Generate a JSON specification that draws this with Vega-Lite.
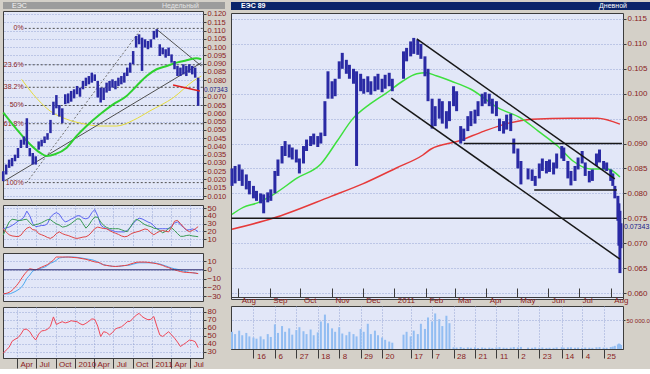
{
"$schema": "https://vega.github.io/schema/vega-lite/v6.json",
"background": "#d4d0c8",
"padding": {"left": -2, "top": 1, "right": 0, "bottom": 0},
"config": {
  "font": "Liberation Sans",
  "view": {"stroke": "#3c3c3c", "strokeWidth": 1, "fill": "#e2e7f8"},
  "axis": {"labelFont": "Liberation Sans", "labelFontSize": 8, "labelColor": "#8a1c1c", "gridColor": "#8f9fd0", "gridDash": [1, 2], "gridOpacity": 0.9, "domain": false, "tickColor": "#3c3c3c", "tickSize": 3, "title": null, "labelOverlap": false, "labelPadding": 1, "labelFlush": false},
  "line": {"strokeWidth": 1}
},
"datasets": {
  "L": [
    {"d":"2009-01-26","lo":0.019,"hi":0.025,"b":23.3,"g":15,"r":23.3,"mr":-27.6,"mb":-27.6,"rsi":28},
    {"d":"2009-02-09","lo":0.023,"hi":0.029,"b":24.5,"g":24,"r":19,"mr":-27,"mb":-27.6,"rsi":32},
    {"d":"2009-02-23","lo":0.027,"hi":0.032,"b":25.4,"g":32,"r":15.5,"mr":-25.8,"mb":-27.6,"rsi":35.5},
    {"d":"2009-03-09","lo":0.028,"hi":0.033,"b":27.5,"g":35.5,"r":14,"mr":-23.5,"mb":-26.5,"rsi":43},
    {"d":"2009-03-23","lo":0.031,"hi":0.035,"b":30,"g":35,"r":13.5,"mr":-20,"mb":-25,"rsi":45.5},
    {"d":"2009-04-06","lo":0.033,"hi":0.039,"b":33,"g":34,"r":13,"mr":-16,"mb":-23,"rsi":47.5},
    {"d":"2009-04-20","lo":0.039,"hi":0.044,"b":35,"g":34,"r":15,"mr":-11,"mb":-20.5,"rsi":52},
    {"d":"2009-05-04","lo":0.041,"hi":0.046,"b":38,"g":35,"r":20,"mr":-6,"mb":-16,"rsi":58},
    {"d":"2009-05-18","lo":0.039,"hi":0.057,"b":46,"g":35.5,"r":24,"mr":-2,"mb":-10,"rsi":58},
    {"d":"2009-06-01","lo":0.034,"hi":0.039,"b":40,"g":31,"r":25.4,"mr":1.1,"mb":-6,"rsi":55},
    {"d":"2009-06-15","lo":0.029,"hi":0.036,"b":30,"g":27.5,"r":22,"mr":0.5,"mb":-1.5,"rsi":49},
    {"d":"2009-06-29","lo":0.029,"hi":0.034,"b":26,"g":28.5,"r":21.5,"mr":0,"mb":0,"rsi":44.6},
    {"d":"2009-07-13","lo":0.038,"hi":0.043,"b":26.5,"g":29.5,"r":17,"mr":1.5,"mb":1,"rsi":52},
    {"d":"2009-07-27","lo":0.040,"hi":0.044,"b":27.5,"g":31,"r":15.5,"mr":3,"mb":2,"rsi":56},
    {"d":"2009-08-10","lo":0.042,"hi":0.046,"b":27.5,"g":33,"r":14,"mr":4.5,"mb":3,"rsi":56.5},
    {"d":"2009-08-24","lo":0.044,"hi":0.048,"b":30,"g":35,"r":12,"mr":6,"mb":5,"rsi":58},
    {"d":"2009-09-07","lo":0.048,"hi":0.056,"b":38,"g":35,"r":10.8,"mr":8.5,"mb":7.5,"rsi":62},
    {"d":"2009-09-21","lo":0.059,"hi":0.067,"b":42.1,"g":32,"r":13,"mr":11,"mb":8.8,"rsi":73.5},
    {"d":"2009-10-05","lo":0.063,"hi":0.071,"b":44,"g":29.6,"r":17,"mr":14.6,"mb":11,"rsi":64},
    {"d":"2009-10-19","lo":0.058,"hi":0.065,"b":42,"g":28,"r":19.2,"mr":14.6,"mb":13.5,"rsi":66},
    {"d":"2009-11-02","lo":0.054,"hi":0.063,"b":36,"g":25.4,"r":17,"mr":14.6,"mb":14,"rsi":67.5},
    {"d":"2009-11-16","lo":0.0655,"hi":0.0715,"b":32,"g":26,"r":15.5,"mr":14.6,"mb":14.4,"rsi":66},
    {"d":"2009-11-30","lo":0.066,"hi":0.072,"b":33.5,"g":27.5,"r":14.5,"mr":14.6,"mb":14.6,"rsi":67},
    {"d":"2009-12-14","lo":0.067,"hi":0.0735,"b":35.8,"g":30,"r":13,"mr":14.4,"mb":14.6,"rsi":68.75},
    {"d":"2009-12-28","lo":0.069,"hi":0.0745,"b":37.5,"g":33,"r":11.5,"mr":14,"mb":14.6,"rsi":68},
    {"d":"2010-01-11","lo":0.0715,"hi":0.0765,"b":40,"g":36,"r":10.8,"mr":13.8,"mb":14.2,"rsi":67.5},
    {"d":"2010-01-25","lo":0.070,"hi":0.0755,"b":40,"g":35.8,"r":11.5,"mr":13.2,"mb":13.8,"rsi":65},
    {"d":"2010-02-08","lo":0.0745,"hi":0.0795,"b":37,"g":30,"r":12.5,"mr":12.6,"mb":13.2,"rsi":63.5},
    {"d":"2010-02-22","lo":0.0765,"hi":0.0815,"b":36,"g":24,"r":12.9,"mr":12,"mb":12.6,"rsi":65.5},
    {"d":"2010-03-08","lo":0.0775,"hi":0.0825,"b":37.5,"g":28,"r":15,"mr":11,"mb":12,"rsi":68},
    {"d":"2010-03-22","lo":0.0785,"hi":0.0845,"b":44,"g":34,"r":19,"mr":10,"mb":11.5,"rsi":71},
    {"d":"2010-04-05","lo":0.0795,"hi":0.0835,"b":48,"g":38.5,"r":23.5,"mr":9,"mb":10.5,"rsi":70.5},
    {"d":"2010-04-19","lo":0.0695,"hi":0.0795,"b":40,"g":38,"r":25.4,"mr":8.5,"mb":9,"rsi":62},
    {"d":"2010-05-03","lo":0.0665,"hi":0.0755,"b":28,"g":32,"r":24.5,"mr":7.5,"mb":6.9,"rsi":49},
    {"d":"2010-05-17","lo":0.068,"hi":0.0755,"b":25,"g":27.5,"r":23.5,"mr":5.5,"mb":6,"rsi":55},
    {"d":"2010-05-31","lo":0.0725,"hi":0.0785,"b":23.3,"g":25,"r":23.3,"mr":5,"mb":5,"rsi":54},
    {"d":"2010-06-14","lo":0.0735,"hi":0.0795,"b":22,"g":23.5,"r":21,"mr":4.5,"mb":4.5,"rsi":51},
    {"d":"2010-06-28","lo":0.0755,"hi":0.0805,"b":21,"g":23.3,"r":19,"mr":4,"mb":4,"rsi":54},
    {"d":"2010-07-12","lo":0.0745,"hi":0.0795,"b":19.5,"g":23.3,"r":17.5,"mr":3.8,"mb":3.8,"rsi":58.5},
    {"d":"2010-07-26","lo":0.0765,"hi":0.0815,"b":19.2,"g":23.3,"r":16,"mr":4,"mb":4,"rsi":60},
    {"d":"2010-08-09","lo":0.0775,"hi":0.0825,"b":19.2,"g":22,"r":14,"mr":4.5,"mb":4.2,"rsi":61},
    {"d":"2010-08-23","lo":0.0785,"hi":0.0845,"b":19.2,"g":20.5,"r":12.9,"mr":4.8,"mb":4.8,"rsi":64},
    {"d":"2010-09-06","lo":0.0825,"hi":0.0876,"b":21,"g":19.5,"r":13.5,"mr":5.3,"mb":5,"rsi":67.5},
    {"d":"2010-09-20","lo":0.0845,"hi":0.0906,"b":25,"g":25,"r":16,"mr":6.5,"mb":5.5,"rsi":68},
    {"d":"2010-10-04","lo":0.0896,"hi":0.0976,"b":30,"g":31,"r":18,"mr":7.5,"mb":6.5,"rsi":72},
    {"d":"2010-10-18","lo":0.0997,"hi":0.1067,"b":34,"g":35.5,"r":19,"mr":8.5,"mb":7.3,"rsi":75.5},
    {"d":"2010-11-01","lo":0.1017,"hi":0.1077,"b":37,"g":34,"r":20,"mr":8.8,"mb":8,"rsi":78},
    {"d":"2010-11-15","lo":0.0856,"hi":0.1057,"b":36,"g":31,"r":21.5,"mr":8.8,"mb":8,"rsi":74},
    {"d":"2010-11-29","lo":0.0997,"hi":0.1047,"b":34,"g":28.5,"r":23,"mr":8.8,"mb":8,"rsi":71.7},
    {"d":"2010-12-13","lo":0.0987,"hi":0.1037,"b":32,"g":27,"r":22,"mr":8.5,"mb":8,"rsi":70},
    {"d":"2010-12-27","lo":0.0997,"hi":0.1047,"b":30.5,"g":26,"r":18,"mr":8,"mb":8,"rsi":70.5},
    {"d":"2011-01-10","lo":0.1047,"hi":0.1098,"b":27,"g":24,"r":15.5,"mr":7.5,"mb":8,"rsi":74},
    {"d":"2011-01-24","lo":0.1057,"hi":0.1108,"b":23.3,"g":23.3,"r":18,"mr":6.9,"mb":7.3,"rsi":62},
    {"d":"2011-02-07","lo":0.0946,"hi":0.1017,"b":23.3,"g":21,"r":20,"mr":6,"mb":6.7,"rsi":51},
    {"d":"2011-02-21","lo":0.0956,"hi":0.0997,"b":23.3,"g":18,"r":21,"mr":5,"mb":5.5,"rsi":49},
    {"d":"2011-03-07","lo":0.0936,"hi":0.0987,"b":23.3,"g":20,"r":20,"mr":3.5,"mb":4.5,"rsi":52},
    {"d":"2011-03-21","lo":0.0946,"hi":0.0997,"b":23.3,"g":24,"r":19.2,"mr":2.5,"mb":3.2,"rsi":55},
    {"d":"2011-04-04","lo":0.0906,"hi":0.0956,"b":27,"g":24.5,"r":25,"mr":1,"mb":2,"rsi":51},
    {"d":"2011-04-18","lo":0.0866,"hi":0.0916,"b":30.5,"g":21,"r":33,"mr":0,"mb":1.2,"rsi":47},
    {"d":"2011-05-02","lo":0.0825,"hi":0.0886,"b":32,"g":17,"r":34,"mr":-1,"mb":0.5,"rsi":42},
    {"d":"2011-05-16","lo":0.0825,"hi":0.0876,"b":28.5,"g":13.5,"r":30,"mr":-2,"mb":-0.5,"rsi":36.5},
    {"d":"2011-05-30","lo":0.0835,"hi":0.0896,"b":25,"g":13.5,"r":25.4,"mr":-2.7,"mb":-1.5,"rsi":39},
    {"d":"2011-06-13","lo":0.0825,"hi":0.0886,"b":21.5,"g":14.5,"r":22,"mr":-3,"mb":-2.2,"rsi":41.5},
    {"d":"2011-06-27","lo":0.0845,"hi":0.0896,"b":22,"g":15,"r":19.5,"mr":-3.2,"mb":-3,"rsi":44.5},
    {"d":"2011-07-11","lo":0.0835,"hi":0.0886,"b":23,"g":14,"r":21,"mr":-3.4,"mb":-3.3,"rsi":44},
    {"d":"2011-07-25","lo":0.0815,"hi":0.0876,"b":22,"g":13.5,"r":23,"mr":-3.8,"mb":-3.8,"rsi":42.5},
    {"d":"2011-08-08","lo":0.0645,"hi":0.0815,"b":19.5,"g":13,"r":26,"mr":-4.4,"mb":-4.3,"rsi":35}
  ],
  "LG": [
    {"d":"2009-01-26","p":0.0604},{"d":"2009-03-31","p":0.0503},{"d":"2009-06-02","p":0.0413},{"d":"2009-07-19","p":0.0362},
    {"d":"2009-08-20","p":0.0342},{"d":"2009-09-28","p":0.0352},{"d":"2009-11-23","p":0.0392},{"d":"2010-01-09","p":0.0463},
    {"d":"2010-02-25","p":0.0523},{"d":"2010-04-30","p":0.0594},{"d":"2010-07-01","p":0.0654},{"d":"2010-09-03","p":0.0705},
    {"d":"2010-10-20","p":0.0765},{"d":"2010-12-07","p":0.0825},{"d":"2011-01-23","p":0.0866},{"d":"2011-03-12","p":0.0886},
    {"d":"2011-04-28","p":0.0906},{"d":"2011-06-14","p":0.092},{"d":"2011-07-31","p":0.0932},{"d":"2011-08-23","p":0.0926}
  ],
  "LY": [
    {"d":"2009-04-23","p":0.0805},{"d":"2009-06-17","p":0.0715},{"d":"2009-09-05","p":0.0614},{"d":"2009-11-23","p":0.0564},
    {"d":"2010-02-09","p":0.0537},{"d":"2010-04-30","p":0.0523},{"d":"2010-07-18","p":0.0523},{"d":"2010-10-05","p":0.0558},
    {"d":"2010-12-22","p":0.0614},{"d":"2011-04-12","p":0.0694},{"d":"2011-07-16","p":0.0795},{"d":"2011-08-23","p":0.0825}
  ],
  "FIB": [
    {"k":"0%","d":"2009-05-08","p":0.1113,"s":1},{"k":"0%","d":"2011-08-31","p":0.1113,"s":0},
    {"k":"23.6%","d":"2009-05-08","p":0.0893,"s":1},{"k":"23.6%","d":"2011-08-31","p":0.0893,"s":0},
    {"k":"38.2%","d":"2009-05-08","p":0.0757,"s":1},{"k":"38.2%","d":"2011-08-31","p":0.0757,"s":0},
    {"k":"50%","d":"2009-05-08","p":0.0647,"s":1},{"k":"50%","d":"2011-08-31","p":0.0647,"s":0},
    {"k":"61.8%","d":"2009-05-08","p":0.0537,"s":1},{"k":"61.8%","d":"2011-08-31","p":0.0537,"s":0},
    {"k":"100%","d":"2009-05-08","p":0.0181,"s":1},{"k":"100%","d":"2011-08-31","p":0.0181,"s":0}
  ],
  "LT": [
    {"k":"up","d":"2009-02-01","p":0.0191},{"k":"up","d":"2011-08-23","p":0.0905},
    {"k":"down","d":"2011-01-23","p":0.1108},{"k":"down","d":"2011-08-23","p":0.0886}
  ],
  "LF": [
    {"k":"fan","d":"2009-05-17","p":0.0181},{"k":"fan","d":"2010-11-05","p":0.1098}
  ],
  "LR": [
    {"d":"2011-04-11","p":0.0771},{"d":"2011-08-16","p":0.0735}
  ],
  "R": [
    {"d":"2010-07-26","lo":0.0815,"hi":0.0850,"v":30000},
    {"d":"2010-07-29","lo":0.0820,"hi":0.0855,"v":26000},
    {"d":"2010-08-02","lo":0.0825,"hi":0.0858,"v":32000},
    {"d":"2010-08-05","lo":0.0815,"hi":0.0848,"v":24000},
    {"d":"2010-08-09","lo":0.0808,"hi":0.0838,"v":28000},
    {"d":"2010-08-12","lo":0.0798,"hi":0.0825,"v":22000},
    {"d":"2010-08-16","lo":0.0790,"hi":0.0815,"v":20000},
    {"d":"2010-08-19","lo":0.0785,"hi":0.0805,"v":18000},
    {"d":"2010-08-23","lo":0.0780,"hi":0.0800,"v":22000},
    {"d":"2010-08-26","lo":0.0760,"hi":0.0798,"v":17000},
    {"d":"2010-08-30","lo":0.0782,"hi":0.0802,"v":26000},
    {"d":"2010-09-02","lo":0.0785,"hi":0.0808,"v":21000},
    {"d":"2010-09-06","lo":0.0800,"hi":0.0845,"v":43000},
    {"d":"2010-09-09","lo":0.0835,"hi":0.0868,"v":28000},
    {"d":"2010-09-13","lo":0.0860,"hi":0.0895,"v":40000},
    {"d":"2010-09-16","lo":0.0875,"hi":0.0905,"v":30000},
    {"d":"2010-09-20","lo":0.0872,"hi":0.0898,"v":36000},
    {"d":"2010-09-23","lo":0.0868,"hi":0.0892,"v":25000},
    {"d":"2010-09-27","lo":0.0862,"hi":0.0888,"v":33000},
    {"d":"2010-09-30","lo":0.0840,"hi":0.0870,"v":38000},
    {"d":"2010-10-04","lo":0.0860,"hi":0.0895,"v":31000},
    {"d":"2010-10-07","lo":0.0885,"hi":0.0908,"v":26000},
    {"d":"2010-10-11","lo":0.0895,"hi":0.0915,"v":34000},
    {"d":"2010-10-14","lo":0.0898,"hi":0.0920,"v":24000},
    {"d":"2010-10-18","lo":0.0893,"hi":0.0915,"v":29000},
    {"d":"2010-10-21","lo":0.0900,"hi":0.0922,"v":48000},
    {"d":"2010-10-25","lo":0.0915,"hi":0.0985,"v":60000},
    {"d":"2010-10-28","lo":0.0990,"hi":0.1045,"v":45000},
    {"d":"2010-11-01","lo":0.0990,"hi":0.1025,"v":36000},
    {"d":"2010-11-04","lo":0.0995,"hi":0.1030,"v":30000},
    {"d":"2010-11-08","lo":0.1030,"hi":0.1065,"v":38000},
    {"d":"2010-11-11","lo":0.1050,"hi":0.1082,"v":27000},
    {"d":"2010-11-15","lo":0.1040,"hi":0.1068,"v":24000},
    {"d":"2010-11-18","lo":0.1030,"hi":0.1058,"v":30000},
    {"d":"2010-11-22","lo":0.1020,"hi":0.1050,"v":26000},
    {"d":"2010-11-25","lo":0.0855,"hi":0.1045,"v":22000},
    {"d":"2010-11-29","lo":0.1005,"hi":0.1040,"v":35000},
    {"d":"2010-12-02","lo":0.1000,"hi":0.1030,"v":30000},
    {"d":"2010-12-06","lo":0.1003,"hi":0.1035,"v":44000},
    {"d":"2010-12-09","lo":0.0998,"hi":0.1025,"v":26000},
    {"d":"2010-12-13","lo":0.1005,"hi":0.1035,"v":32000},
    {"d":"2010-12-16","lo":0.1008,"hi":0.1040,"v":24000},
    {"d":"2010-12-20","lo":0.1003,"hi":0.1030,"v":20000},
    {"d":"2010-12-23","lo":0.1010,"hi":0.1038,"v":16000},
    {"d":"2010-12-27","lo":0.1015,"hi":0.1042,"v":13000},
    {"d":"2010-12-30","lo":0.1005,"hi":0.1030,"v":11000},
    {"d":"2011-01-10","lo":0.1030,"hi":0.1085,"v":25000},
    {"d":"2011-01-13","lo":0.1065,"hi":0.1092,"v":30000},
    {"d":"2011-01-17","lo":0.1075,"hi":0.1105,"v":22000},
    {"d":"2011-01-20","lo":0.1080,"hi":0.1112,"v":32000},
    {"d":"2011-01-24","lo":0.1078,"hi":0.1108,"v":26000},
    {"d":"2011-01-27","lo":0.1070,"hi":0.1100,"v":44000},
    {"d":"2011-01-31","lo":0.1035,"hi":0.1075,"v":35000},
    {"d":"2011-02-03","lo":0.0985,"hi":0.1050,"v":55000},
    {"d":"2011-02-07","lo":0.0930,"hi":0.0990,"v":48000},
    {"d":"2011-02-10","lo":0.0935,"hi":0.0975,"v":62000},
    {"d":"2011-02-14","lo":0.0950,"hi":0.0990,"v":52000},
    {"d":"2011-02-17","lo":0.0940,"hi":0.0985,"v":40000},
    {"d":"2011-02-21","lo":0.0930,"hi":0.0965,"v":58000},
    {"d":"2011-02-24","lo":0.0945,"hi":0.0985,"v":45000},
    {"d":"2011-02-28","lo":0.0975,"hi":0.1015,"v":3000},
    {"d":"2011-03-03","lo":0.0965,"hi":0.1005,"v":2500},
    {"d":"2011-03-07","lo":0.0900,"hi":0.0935,"v":3500},
    {"d":"2011-03-10","lo":0.0905,"hi":0.0930,"v":2000},
    {"d":"2011-03-14","lo":0.0925,"hi":0.0955,"v":2800},
    {"d":"2011-03-17","lo":0.0935,"hi":0.0965,"v":2200},
    {"d":"2011-03-21","lo":0.0940,"hi":0.0968,"v":3000},
    {"d":"2011-03-24","lo":0.0955,"hi":0.0985,"v":1800},
    {"d":"2011-03-28","lo":0.0975,"hi":0.1000,"v":2600},
    {"d":"2011-03-31","lo":0.0980,"hi":0.1003,"v":2000},
    {"d":"2011-04-04","lo":0.0975,"hi":0.1000,"v":2400},
    {"d":"2011-04-07","lo":0.0960,"hi":0.0990,"v":1900},
    {"d":"2011-04-11","lo":0.0955,"hi":0.0985,"v":2700},
    {"d":"2011-04-14","lo":0.0925,"hi":0.0950,"v":3200},
    {"d":"2011-04-18","lo":0.0920,"hi":0.0945,"v":2300},
    {"d":"2011-04-21","lo":0.0928,"hi":0.0958,"v":2000},
    {"d":"2011-04-25","lo":0.0925,"hi":0.0960,"v":2500},
    {"d":"2011-04-28","lo":0.0880,"hi":0.0910,"v":3400},
    {"d":"2011-05-02","lo":0.0850,"hi":0.0890,"v":2800},
    {"d":"2011-05-05","lo":0.0818,"hi":0.0865,"v":3600},
    {"d":"2011-05-12","lo":0.0828,"hi":0.0850,"v":2400},
    {"d":"2011-05-16","lo":0.0825,"hi":0.0848,"v":2100},
    {"d":"2011-05-19","lo":0.0815,"hi":0.0835,"v":2900},
    {"d":"2011-05-23","lo":0.0830,"hi":0.0860,"v":2300},
    {"d":"2011-05-26","lo":0.0845,"hi":0.0870,"v":2600},
    {"d":"2011-05-30","lo":0.0840,"hi":0.0865,"v":1900},
    {"d":"2011-06-02","lo":0.0843,"hi":0.0868,"v":2200},
    {"d":"2011-06-06","lo":0.0838,"hi":0.0862,"v":2000},
    {"d":"2011-06-09","lo":0.0850,"hi":0.0880,"v":2700},
    {"d":"2011-06-14","lo":0.0870,"hi":0.0895,"v":3100},
    {"d":"2011-06-16","lo":0.0865,"hi":0.0892,"v":2400},
    {"d":"2011-06-20","lo":0.0830,"hi":0.0865,"v":2800},
    {"d":"2011-06-23","lo":0.0816,"hi":0.0845,"v":3000},
    {"d":"2011-06-27","lo":0.0825,"hi":0.0855,"v":2200},
    {"d":"2011-06-30","lo":0.0848,"hi":0.0872,"v":2500},
    {"d":"2011-07-04","lo":0.0860,"hi":0.0885,"v":2100},
    {"d":"2011-07-07","lo":0.0835,"hi":0.0862,"v":2600},
    {"d":"2011-07-11","lo":0.0822,"hi":0.0845,"v":2300},
    {"d":"2011-07-14","lo":0.0825,"hi":0.0848,"v":2000},
    {"d":"2011-07-18","lo":0.0855,"hi":0.0880,"v":2900},
    {"d":"2011-07-21","lo":0.0862,"hi":0.0888,"v":3300},
    {"d":"2011-07-25","lo":0.0848,"hi":0.0865,"v":2400},
    {"d":"2011-07-28","lo":0.0845,"hi":0.0862,"v":2200},
    {"d":"2011-08-01","lo":0.0825,"hi":0.0848,"v":3500},
    {"d":"2011-08-03","lo":0.0815,"hi":0.0840,"v":4200},
    {"d":"2011-08-05","lo":0.0790,"hi":0.0815,"v":5500},
    {"d":"2011-08-08","lo":0.0745,"hi":0.0795,"v":8000},
    {"d":"2011-08-09","lo":0.0695,"hi":0.0780,"v":9500},
    {"d":"2011-08-10","lo":0.0640,"hi":0.0765,"v":8500},
    {"d":"2011-08-11","lo":0.0690,"hi":0.0740,"v":7000}
  ],
  "RG": [
    {"d":"2010-07-26","p":0.0758},{"d":"2010-08-06","p":0.0772},{"d":"2010-08-20","p":0.0781},{"d":"2010-09-04","p":0.0797},
    {"d":"2010-09-28","p":0.0831},{"d":"2010-10-21","p":0.0859},{"d":"2010-11-06","p":0.0905},{"d":"2010-11-21","p":0.0949},
    {"d":"2010-12-08","p":0.0979},{"d":"2010-12-24","p":0.1001},{"d":"2011-01-09","p":0.1025},{"d":"2011-01-23","p":0.104},
    {"d":"2011-02-01","p":0.1042},{"d":"2011-02-11","p":0.1036},{"d":"2011-02-26","p":0.1025},{"d":"2011-03-17","p":0.1009},
    {"d":"2011-04-13","p":0.0971},{"d":"2011-05-05","p":0.0951},{"d":"2011-05-22","p":0.0925},{"d":"2011-06-10","p":0.0895},
    {"d":"2011-06-25","p":0.0865},{"d":"2011-07-12","p":0.0849},{"d":"2011-07-29","p":0.0849},{"d":"2011-08-10","p":0.0833}
  ],
  "RR": [
    {"d":"2010-07-26","p":0.0728},{"d":"2010-09-04","p":0.075},{"d":"2010-10-31","p":0.0794},{"d":"2010-12-01","p":0.0819},
    {"d":"2011-01-03","p":0.0851},{"d":"2011-01-29","p":0.0877},{"d":"2011-02-06","p":0.0889},{"d":"2011-03-05","p":0.0905},
    {"d":"2011-03-30","p":0.0925},{"d":"2011-04-23","p":0.0941},{"d":"2011-05-16","p":0.0949},{"d":"2011-06-23","p":0.0951},
    {"d":"2011-07-19","p":0.0951},{"d":"2011-08-10","p":0.0939}
  ],
  "RL": [
    {"k":"cu","d":"2011-01-23","p":0.111},{"k":"cu","d":"2011-08-05","p":0.0829},
    {"k":"cl","d":"2010-12-29","p":0.0991},{"k":"cl","d":"2011-08-10","p":0.0668},
    {"k":"h1","d":"2011-03-10","p":0.09},{"k":"h1","d":"2011-08-12","p":0.09},
    {"k":"h2","d":"2011-05-18","p":0.0807},{"k":"h2","d":"2011-08-07","p":0.0807},
    {"k":"h3","d":"2010-07-25","p":0.075},{"k":"h3","d":"2011-08-07","p":0.075}
  ]
},
"hconcat": [
  {
    "bounds": "flush",
    "spacing": 2,
    "vconcat": [
      {
        "width": 222, "height": 7,
        "view": {"fill": "#9c9c9c", "stroke": null},
        "data": {"values": [{"t": "ЕЭС", "u": "Недельный"}]},
        "layer": [
          {"mark": {"type": "text", "align": "left", "baseline": "middle", "fontSize": 7, "color": "#f4f4f4", "dx": 9},
           "encoding": {"x": {"datum": 0, "type": "quantitative", "scale": {"domain": [0, 1]}, "axis": null}, "y": {"datum": 0.5, "type": "quantitative", "scale": {"domain": [0, 1]}, "axis": null}, "text": {"field": "t"}}},
          {"mark": {"type": "text", "align": "right", "baseline": "middle", "fontSize": 7, "color": "#e4e4e4", "dx": -26},
           "encoding": {"x": {"datum": 1, "type": "quantitative", "axis": null}, "y": {"datum": 0.5, "type": "quantitative", "axis": null}, "text": {"field": "u"}}}
        ]
      },
      {
        "bounds": "flush",
        "spacing": 6,
        "vconcat": [
          {
            "width": 200, "height": 188,
            "resolve": {"axis": {"y": "independent"}},
            "layer": [
              {"data": {"name": "FIB"}, "mark": {"type": "line", "color": "#505050", "strokeDash": [2, 2], "strokeWidth": 1},
               "encoding": {
                 "x": {"field": "d", "type": "temporal", "scale": {"domain": [{"year": 2009, "month": 1, "date": 25}, {"year": 2011, "month": 8, "date": 31}], "nice": false},
                       "axis": {"values": [{"year":2009,"month":4,"date":1},{"year":2009,"month":7,"date":1},{"year":2009,"month":10,"date":1},{"year":2010,"month":1,"date":1},{"year":2010,"month":4,"date":1},{"year":2010,"month":7,"date":1},{"year":2010,"month":10,"date":1},{"year":2011,"month":1,"date":1},{"year":2011,"month":4,"date":1},{"year":2011,"month":7,"date":1}], "grid": true, "labels": false, "ticks": false}},
                 "y": {"field": "p", "type": "quantitative", "scale": {"domain": [0.0082, 0.1218], "nice": false, "zero": false},
                       "axis": {"orient": "right", "values": [0.01,0.015,0.02,0.025,0.03,0.035,0.04,0.045,0.05,0.055,0.06,0.065,0.07,0.08,0.085,0.09,0.095,0.1,0.105,0.11,0.115,0.12], "format": ".3f", "grid": true, "labelFontSize": 7.5}},
                 "detail": {"field": "k"}}},
              {"data": {"name": "FIB"}, "transform": [{"filter": "datum.s == 1"}],
               "mark": {"type": "text", "align": "right", "baseline": "middle", "fontSize": 7, "color": "#8a1c1c", "dx": -1},
               "encoding": {"x": {"field": "d", "type": "temporal", "axis": null}, "y": {"field": "p", "type": "quantitative", "axis": null}, "text": {"field": "k"}}},
              {"data": {"name": "LF"}, "mark": {"type": "line", "color": "#707070", "strokeDash": [2, 2], "strokeWidth": 1},
               "encoding": {"x": {"field": "d", "type": "temporal", "axis": null}, "y": {"field": "p", "type": "quantitative", "axis": null}}},
              {"data": {"name": "LY"}, "mark": {"type": "line", "color": "#e6dc3c", "strokeWidth": 1, "interpolate": "monotone"},
               "encoding": {"x": {"field": "d", "type": "temporal", "axis": null}, "y": {"field": "p", "type": "quantitative", "axis": null}}},
              {"data": {"name": "LT"}, "mark": {"type": "line", "color": "#505050", "strokeWidth": 1},
               "encoding": {"x": {"field": "d", "type": "temporal", "axis": null}, "y": {"field": "p", "type": "quantitative", "axis": null}, "detail": {"field": "k"}}},
              {"data": {"name": "LG"}, "mark": {"type": "line", "color": "#2ed12e", "strokeWidth": 2, "interpolate": "monotone"},
               "encoding": {"x": {"field": "d", "type": "temporal", "axis": null}, "y": {"field": "p", "type": "quantitative", "axis": null}}},
              {"data": {"name": "L"}, "mark": {"type": "rule", "color": "#2a2aa4", "strokeWidth": 2.5},
               "encoding": {"x": {"field": "d", "type": "temporal", "axis": null}, "y": {"field": "lo", "type": "quantitative", "axis": null}, "y2": {"field": "hi"}}},
              {"data": {"name": "LR"}, "mark": {"type": "line", "color": "#e02020", "strokeWidth": 1.5},
               "encoding": {"x": {"field": "d", "type": "temporal", "axis": null}, "y": {"field": "p", "type": "quantitative", "axis": null}}},
              {"data": {"values": [{"d": "2011-08-31", "p": 0.0741, "t": "0.07343"}]},
               "mark": {"type": "text", "align": "left", "baseline": "middle", "fontSize": 6.5, "color": "#1a1a8a", "dx": 1},
               "encoding": {"x": {"field": "d", "type": "temporal", "axis": null}, "y": {"field": "p", "type": "quantitative", "axis": null}, "text": {"field": "t"}}}
            ]
          },
          {
            "width": 200, "height": 42,
            "data": {"name": "L"},
            "transform": [{"fold": ["b", "g", "r"], "as": ["key", "val"]}],
            "mark": {"type": "line", "strokeWidth": 1},
            "encoding": {
              "x": {"field": "d", "type": "temporal", "scale": {"domain": [{"year": 2009, "month": 1, "date": 25}, {"year": 2011, "month": 8, "date": 31}], "nice": false},
                    "axis": {"values": [{"year":2009,"month":4,"date":1},{"year":2009,"month":7,"date":1},{"year":2009,"month":10,"date":1},{"year":2010,"month":1,"date":1},{"year":2010,"month":4,"date":1},{"year":2010,"month":7,"date":1},{"year":2010,"month":10,"date":1},{"year":2011,"month":1,"date":1},{"year":2011,"month":4,"date":1},{"year":2011,"month":7,"date":1}], "grid": true, "labels": false, "ticks": false}},
              "y": {"field": "val", "type": "quantitative", "scale": {"domain": [-0.3, 53.9], "nice": false, "zero": false}, "axis": {"orient": "right", "values": [10, 20, 30, 40, 50], "grid": true}},
              "color": {"field": "key", "type": "nominal", "scale": {"domain": ["b", "g", "r"], "range": ["#5a64f0", "#3a9a55", "#e04545"]}, "legend": null}
            }
          },
          {
            "width": 200, "height": 48,
            "resolve": {"axis": {"y": "independent"}},
            "layer": [
              {"data": {"name": "L"}, "mark": {"type": "line", "color": "#4aa8f0", "interpolate": "monotone"},
               "encoding": {
                 "x": {"field": "d", "type": "temporal", "scale": {"domain": [{"year": 2009, "month": 1, "date": 25}, {"year": 2011, "month": 8, "date": 31}], "nice": false},
                       "axis": {"values": [{"year":2009,"month":4,"date":1},{"year":2009,"month":7,"date":1},{"year":2009,"month":10,"date":1},{"year":2010,"month":1,"date":1},{"year":2010,"month":4,"date":1},{"year":2010,"month":7,"date":1},{"year":2010,"month":10,"date":1},{"year":2011,"month":1,"date":1},{"year":2011,"month":4,"date":1},{"year":2011,"month":7,"date":1}], "grid": true, "labels": false, "ticks": false}},
                 "y": {"field": "mb", "type": "quantitative", "scale": {"domain": [-35.7, 19.2], "nice": false, "zero": false}, "axis": {"orient": "right", "values": [-30, -20, -10, 0, 10], "grid": true}}}},
              {"data": {"name": "L"}, "mark": {"type": "line", "color": "#ec4040", "interpolate": "monotone"},
               "encoding": {"x": {"field": "d", "type": "temporal", "axis": null}, "y": {"field": "mr", "type": "quantitative", "axis": null}}},
              {"data": {"values": [{"z": 0}]}, "mark": {"type": "rule", "color": "#2a2a70", "strokeWidth": 1},
               "encoding": {"y": {"field": "z", "type": "quantitative", "axis": null}}}
            ]
          },
          {
            "width": 200, "height": 51,
            "data": {"name": "L"},
            "mark": {"type": "line", "color": "#f04858"},
            "encoding": {
              "x": {"field": "d", "type": "temporal", "scale": {"domain": [{"year": 2009, "month": 1, "date": 25}, {"year": 2011, "month": 8, "date": 31}], "nice": false},
                    "axis": {"values": [{"year":2009,"month":4,"date":1},{"year":2009,"month":7,"date":1},{"year":2009,"month":10,"date":1},{"year":2010,"month":1,"date":1},{"year":2010,"month":4,"date":1},{"year":2010,"month":7,"date":1},{"year":2010,"month":10,"date":1},{"year":2011,"month":1,"date":1},{"year":2011,"month":4,"date":1},{"year":2011,"month":7,"date":1}],
                             "grid": true, "tickSize": 10, "labelPadding": -8, "labelAlign": "left", "labelBaseline": "top", "labelOffset": 3, "domain": true, "domainColor": "#3c3c3c",
                             "labelExpr": "month(datum.value) == 0 ? timeFormat(datum.value, '%Y') : timeFormat(datum.value, '%b')"}},
              "y": {"field": "rsi", "type": "quantitative", "scale": {"domain": [22.1, 85.9], "nice": false, "zero": false}, "axis": {"orient": "right", "values": [30, 40, 50, 60, 70, 80], "grid": true}}
            }
          }
        ]
      }
    ]
  },
  {
    "bounds": "flush",
    "spacing": 3,
    "vconcat": [
      {
        "width": 420, "height": 8,
        "view": {"fill": "#0a246a", "stroke": null},
        "data": {"values": [{"t": "ЕЭС 89", "u": "Дневной"}]},
        "layer": [
          {"mark": {"type": "text", "align": "left", "baseline": "middle", "fontSize": 7, "fontWeight": "bold", "color": "#ffffff", "dx": 10},
           "encoding": {"x": {"datum": 0, "type": "quantitative", "scale": {"domain": [0, 1]}, "axis": null}, "y": {"datum": 0.5, "type": "quantitative", "scale": {"domain": [0, 1]}, "axis": null}, "text": {"field": "t"}}},
          {"mark": {"type": "text", "align": "right", "baseline": "middle", "fontSize": 7, "color": "#ffffff", "dx": -24},
           "encoding": {"x": {"datum": 1, "type": "quantitative", "axis": null}, "y": {"datum": 0.5, "type": "quantitative", "axis": null}, "text": {"field": "u"}}}
        ]
      },
      {
        "bounds": "flush",
        "spacing": 7,
        "vconcat": [
          {
            "width": 392, "height": 286,
            "resolve": {"axis": {"y": "independent"}},
            "layer": [
              {"data": {"name": "RR"}, "mark": {"type": "line", "color": "#e63a3a", "strokeWidth": 1.5, "interpolate": "monotone"},
               "encoding": {
                 "x": {"field": "d", "type": "temporal", "scale": {"domain": [{"year": 2010, "month": 7, "date": 25}, {"year": 2011, "month": 8, "date": 13}], "nice": false},
                       "axis": {"values": [{"year":2010,"month":8,"date":16},{"year":2010,"month":9,"date":6},{"year":2010,"month":9,"date":27},{"year":2010,"month":10,"date":18},{"year":2010,"month":11,"date":8},{"year":2010,"month":11,"date":29},{"year":2010,"month":12,"date":20},{"year":2011,"month":1,"date":17},{"year":2011,"month":2,"date":7},{"year":2011,"month":2,"date":28},{"year":2011,"month":3,"date":21},{"year":2011,"month":4,"date":11},{"year":2011,"month":5,"date":2},{"year":2011,"month":5,"date":23},{"year":2011,"month":6,"date":14},{"year":2011,"month":7,"date":4},{"year":2011,"month":7,"date":25}], "grid": true, "labels": false, "ticks": false}},
                 "y": {"field": "p", "type": "quantitative", "scale": {"domain": [0.0588, 0.1162], "nice": false, "zero": false},
                       "axis": {"orient": "right", "values": [0.06,0.065,0.07,0.075,0.08,0.085,0.09,0.095,0.1,0.105,0.11,0.115], "format": ".3f", "grid": true}}}},
              {"data": {"name": "RG"}, "mark": {"type": "line", "color": "#3ee03e", "strokeWidth": 1.5, "interpolate": "monotone"},
               "encoding": {"x": {"field": "d", "type": "temporal", "axis": null}, "y": {"field": "p", "type": "quantitative", "axis": null}}},
              {"data": {"name": "R"}, "mark": {"type": "rule", "color": "#2a2aa4", "strokeWidth": 3},
               "encoding": {"x": {"field": "d", "type": "temporal", "axis": null}, "y": {"field": "lo", "type": "quantitative", "axis": null}, "y2": {"field": "hi"}}},
              {"data": {"name": "RL"}, "mark": {"type": "line", "color": "#181818", "strokeWidth": 1.5},
               "encoding": {"x": {"field": "d", "type": "temporal", "axis": null}, "y": {"field": "p", "type": "quantitative", "axis": null}, "detail": {"field": "k"}}},
              {"data": {"values": [{"d": "2011-08-13", "p": 0.0732, "t": "0.07343"}]},
               "mark": {"type": "text", "align": "left", "baseline": "middle", "fontSize": 7, "color": "#1a1a8a", "dx": 1},
               "encoding": {"x": {"field": "d", "type": "temporal", "axis": null}, "y": {"field": "p", "type": "quantitative", "axis": null}, "text": {"field": "t"}}}
            ]
          },
          {
            "width": 392, "height": 43,
            "data": {"name": "R"},
            "resolve": {"axis": {"x": "independent", "y": "independent"}},
            "layer": [
              {"mark": {"type": "rule", "color": "#92bdf2", "strokeWidth": 2},
               "encoding": {
                 "x": {"field": "d", "type": "temporal", "scale": {"domain": [{"year": 2010, "month": 7, "date": 25}, {"year": 2011, "month": 8, "date": 13}], "nice": false},
                       "axis": {"values": [{"year":2010,"month":8,"date":16},{"year":2010,"month":9,"date":6},{"year":2010,"month":9,"date":27},{"year":2010,"month":10,"date":18},{"year":2010,"month":11,"date":8},{"year":2010,"month":11,"date":29},{"year":2010,"month":12,"date":20},{"year":2011,"month":1,"date":17},{"year":2011,"month":2,"date":7},{"year":2011,"month":2,"date":28},{"year":2011,"month":3,"date":21},{"year":2011,"month":4,"date":11},{"year":2011,"month":5,"date":2},{"year":2011,"month":5,"date":23},{"year":2011,"month":6,"date":14},{"year":2011,"month":7,"date":4},{"year":2011,"month":7,"date":25}],
                                "grid": true, "tickSize": 9, "labelPadding": -6, "labelAlign": "left", "labelBaseline": "top", "labelOffset": 3, "format": "%-d", "domain": true, "domainColor": "#3c3c3c"}},
                 "y": {"field": "v", "type": "quantitative", "scale": {"domain": [0, 75000], "nice": false}, "axis": {"orient": "right", "values": [50000], "labelExpr": "'50 000.0'", "labelFontSize": 6, "tickSize": 2, "grid": true}},
                 "y2": {"datum": 0}}},
              {"mark": {"type": "rule", "opacity": 0},
               "encoding": {
                 "x": {"field": "d", "type": "temporal",
                       "axis": {"values": [{"year":2010,"month":8,"date":1},{"year":2010,"month":9,"date":1},{"year":2010,"month":10,"date":1},{"year":2010,"month":11,"date":1},{"year":2010,"month":12,"date":1},{"year":2011,"month":1,"date":1},{"year":2011,"month":2,"date":1},{"year":2011,"month":3,"date":1},{"year":2011,"month":4,"date":1},{"year":2011,"month":5,"date":1},{"year":2011,"month":6,"date":1},{"year":2011,"month":7,"date":1},{"year":2011,"month":8,"date":1}],
                                "grid": false, "offset": 9, "tickSize": 9, "labelPadding": -8, "labelAlign": "left", "labelBaseline": "top", "labelOffset": 3, "domain": true, "domainColor": "#3c3c3c",
                                "labelExpr": "month(datum.value) == 0 ? timeFormat(datum.value, '%Y') : timeFormat(datum.value, '%b')"}},
                 "y": {"field": "v", "type": "quantitative", "axis": null}}}
            ]
          }
        ]
      }
    ]
  }
],
"spacing": -1,
"bounds": "full"
}
